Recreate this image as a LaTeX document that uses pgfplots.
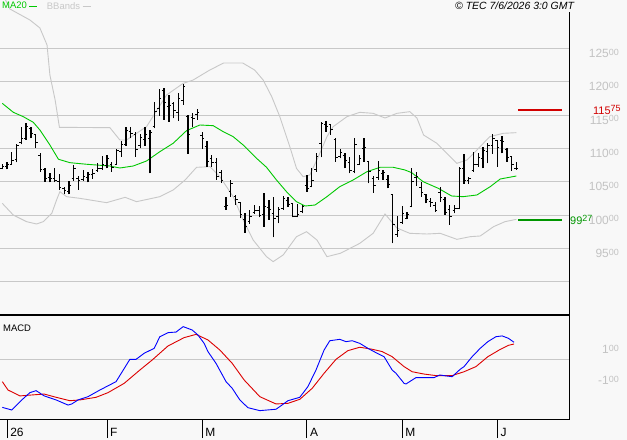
\documentclass[border=0pt]{standalone}
\usepackage{fontspec}
\setmainfont{Liberation Sans}
\usepackage{pgfplots}
\pgfplotsset{compat=1.18}
\usepackage{pgfplotstable}

\definecolor{bg}{RGB}{248,248,248}
\definecolor{gridc}{RGB}{200,200,200}
\definecolor{bandc}{RGB}{200,200,200}
\definecolor{mag}{RGB}{0,200,0}
\definecolor{labc}{RGB}{195,195,195}
\definecolor{redl}{RGB}{210,0,0}
\definecolor{greenl}{RGB}{0,150,0}
\definecolor{macdb}{RGB}{0,0,255}
\definecolor{macdr}{RGB}{220,0,0}

\newcommand\sx[1]{\raisebox{2.2bp}{\fontsize{9}{9}\selectfont #1}}

\pgfdeclareplotmark{otick}{\pgfpathmoveto{\pgfqpoint{-2bp}{0bp}}\pgfpathlineto{\pgfqpoint{0bp}{0bp}}\pgfusepathqstroke}
\pgfdeclareplotmark{ctick}{\pgfpathmoveto{\pgfqpoint{0bp}{0bp}}\pgfpathlineto{\pgfqpoint{2bp}{0bp}}\pgfusepathqstroke}

\pgfplotstableread{
i O H L C
0 107.00 107.60 106.85 107.30
1 107.20 107.90 106.85 107.60
2 107.60 109.40 107.50 108.20
3 108.30 110.60 107.90 110.40
4 110.80 113.25 110.60 111.40
5 111.50 113.75 111.25 113.30
6 113.00 113.25 111.50 112.20
7 112.00 112.00 110.10 110.90
8 108.90 109.25 106.50 106.80
9 106.80 107.00 105.00 105.40
10 105.60 106.25 104.90 105.50
11 105.50 107.00 104.90 105.10
12 105.00 106.10 103.75 104.10
13 104.00 104.25 103.10 103.70
14 103.50 105.10 103.10 104.40
15 105.40 107.50 105.10 106.90
16 105.50 105.90 103.75 105.20
17 105.30 106.75 105.10 105.70
18 105.60 106.50 104.90 106.00
19 106.00 106.90 105.40 106.20
20 106.60 107.75 106.50 107.00
21 107.00 108.90 106.75 107.50
22 107.40 109.00 107.00 108.40
23 107.50 107.90 106.50 107.10
24 107.60 109.90 107.50 109.60
25 109.50 111.10 108.75 110.60
26 110.60 113.25 110.40 112.60
27 112.50 113.25 111.50 112.20
28 112.00 112.50 108.75 109.80
29 110.40 112.10 110.00 111.60
30 111.30 113.25 110.40 112.00
31 111.50 112.75 106.25 112.40
32 113.20 116.90 113.00 115.50
33 116.00 118.90 114.90 117.50
34 118.70 119.10 114.25 116.80
35 116.20 118.00 114.00 116.40
36 116.70 117.00 114.50 115.60
37 115.40 118.25 114.10 117.40
38 117.10 119.60 116.50 119.30
39 114.80 115.00 109.20 112.10
40 114.60 115.25 113.25 114.50
41 115.00 115.85 114.25 115.40
42 111.90 112.40 109.90 111.40
43 110.30 111.10 107.25 108.00
44 108.40 109.00 107.25 107.90
45 107.80 108.50 105.25 105.70
46 106.30 106.75 104.85 105.20
47 101.30 102.75 100.75 101.40
48 103.50 105.25 102.75 104.70
49 102.80 103.00 101.50 102.30
50 101.80 102.00 99.50 100.00
51 99.30 100.25 97.35 98.30
52 99.00 100.75 98.65 99.80
53 100.30 101.50 100.15 100.60
54 100.70 101.35 99.65 99.90
55 100.00 103.25 98.25 101.30
56 101.10 102.25 99.25 100.80
57 100.20 102.75 96.65 99.40
58 99.70 101.25 98.75 100.80
59 100.90 102.85 100.75 102.50
60 102.10 102.75 101.25 101.60
61 101.70 101.75 99.65 99.80
62 99.70 101.65 99.65 100.10
63 100.50 101.50 100.25 101.20
64 104.40 106.00 103.50 103.90
65 104.30 107.00 104.15 105.20
66 106.80 109.35 106.50 108.70
67 110.70 114.00 108.65 113.70
68 113.60 114.15 112.50 113.20
69 113.50 113.65 112.00 112.80
70 111.30 111.50 108.00 108.60
71 108.70 109.85 108.50 109.30
72 108.90 109.25 107.00 108.10
73 107.80 108.65 106.25 106.60
74 106.50 111.50 106.25 110.60
75 107.60 109.00 107.50 108.50
76 110.00 111.50 108.00 110.10
77 108.00 108.00 104.75 106.50
78 105.50 105.85 103.35 104.40
79 105.60 108.15 105.25 106.60
80 106.20 106.75 105.25 106.30
81 105.30 106.00 104.00 104.60
82 103.10 103.10 95.75 98.50
83 97.00 99.85 96.75 97.70
84 98.90 101.35 98.65 100.20
85 99.40 100.50 99.35 100.00
86 101.20 107.00 101.15 105.00
87 105.60 106.50 104.35 105.80
88 104.10 105.00 102.75 103.40
89 103.00 103.15 101.75 102.30
90 102.00 102.50 101.25 101.80
91 101.40 102.00 100.50 100.70
92 103.40 104.15 102.00 102.60
93 102.30 102.75 100.00 100.30
94 100.80 101.50 98.50 99.70
95 100.70 101.50 100.25 101.00
96 101.00 107.25 100.85 107.00
97 106.90 109.15 104.65 105.20
98 105.20 105.75 104.65 105.50
99 106.70 109.50 106.50 107.50
100 107.60 109.25 107.25 108.60
101 108.40 110.25 107.00 109.70
102 109.50 110.75 107.75 110.40
103 110.40 112.10 109.15 111.50
104 111.20 111.25 107.25 110.10
105 111.10 111.85 109.25 111.00
106 109.80 110.00 108.00 108.60
107 108.70 108.85 106.65 107.50
108 107.00 108.00 106.75 107.00
}\ohlc

\pgfplotstableread{
i v
0 116.75
2.3 115.41
4.4 114.75
6.5 113.91
7.9 112.75
10.0 110.50
11.8 108.36
14.2 107.85
17.7 107.61
22.6 107.35
24.7 107.05
27.5 107.35
30.3 108.10
33.1 109.50
35.9 110.76
38.7 112.65
41.5 113.50
44.3 113.40
46.4 112.50
48.5 111.75
50.6 110.50
53.4 108.51
55.5 107.16
57.6 105.25
59.7 103.50
61.8 102.00
63.6 101.35
65.7 101.50
68.2 102.75
70.9 104.25
73.7 105.25
76.6 106.50
79.4 107.16
82.1 107.16
84.6 106.75
86.0 106.35
88.4 105.00
91.6 104.00
94.4 102.85
96.8 102.75
99.7 103.00
102.5 104.25
104.6 105.40
108.0 105.85
}\mavg

\pgfplotstableread{
i v
-0.5 134.00
1.6 130.90
5.8 129.25
7.9 128.05
9.4 125.50
10.0 121.00
11.1 117.25
12.0 113.15
22.6 113.10
24.7 111.25
26.1 111.25
30.3 113.25
34.5 118.00
38.0 119.75
40.1 120.25
43.6 121.75
46.5 122.80
50.5 122.80
53.0 121.75
54.8 120.25
56.6 117.75
58.3 114.75
60.4 110.25
61.8 107.00
63.2 105.75
64.6 106.00
66.4 108.75
68.2 111.75
69.5 113.25
72.4 114.75
75.1 115.40
77.9 115.25
80.4 114.55
82.9 115.25
85.6 115.50
87.1 114.55
88.5 112.00
91.3 110.75
93.4 109.25
95.5 107.75
97.6 108.25
99.7 109.75
102.4 111.75
105.2 112.25
108.0 112.35
}\bbup

\pgfplotstableread{
i v
0 101.75
2.3 100.00
5.1 99.00
7.2 98.65
8.6 99.00
10.4 100.25
11.4 102.25
12.1 103.50
13.5 102.75
16.3 102.50
21.9 101.85
25.8 102.65
28.2 102.00
33.1 102.75
35.9 103.75
38.4 105.25
40.8 107.15
43.6 107.25
45.7 105.75
48.5 102.75
50.6 99.25
52.7 96.25
55.5 93.75
56.9 93.00
59.0 94.00
61.8 96.75
63.9 97.50
66.1 96.25
68.2 93.75
71.0 94.25
75.1 95.75
77.9 97.25
80.4 100.15
82.9 98.05
85.6 97.25
89.2 97.15
92.0 97.25
95.5 96.35
98.3 96.75
100.4 96.85
103.2 98.25
105.6 99.00
108.0 99.35
}\bblo

\pgfplotstableread{
i v
0 -3.09
2.0 -3.26
4.1 -2.61
5.8 -2.14
7.1 -2.01
8.8 -2.35
11.3 -2.61
13.8 -2.94
14.6 -2.87
15.9 -2.61
18.0 -2.40
20.5 -1.97
23.9 -1.43
26.8 0.01
28.1 0.01
29.8 0.40
31.9 0.72
33.1 1.47
34.8 1.73
36.5 1.77
38.0 2.12
39.9 1.90
41.1 1.58
42.4 1.04
43.2 0.51
44.9 -0.25
47.0 -1.43
48.3 -1.86
49.9 -2.61
51.6 -3.11
54.1 -3.30
57.5 -3.21
58.3 -3.04
60.0 -2.66
62.5 -2.44
64.2 -1.75
65.9 -0.68
67.6 0.61
68.8 1.21
70.9 1.30
72.2 1.15
73.5 1.21
75.1 1.04
76.8 0.72
78.5 0.44
80.2 0.18
81.9 -0.68
82.7 -0.89
84.4 -1.54
84.8 -1.58
86.9 -1.17
90.7 -1.17
91.9 -1.00
93.2 -1.06
94.5 -1.11
96.2 -0.63
97.0 -0.46
98.7 0.18
100.4 0.72
102.0 1.15
103.7 1.47
105.0 1.52
106.3 1.37
107.5 1.11
}\macd

\pgfplotstableread{
i v
0 -1.43
1.2 -1.97
3.7 -2.35
6.2 -2.29
8.8 -2.23
11.3 -2.44
14.2 -2.66
16.3 -2.61
19.7 -2.44
22.2 -2.14
25.6 -1.54
28.9 -0.68
31.5 -0.03
34.8 0.87
38.2 1.41
40.7 1.62
43.2 1.26
45.7 0.61
48.3 -0.25
50.8 -1.32
54.1 -2.40
57.5 -2.87
60.0 -2.83
62.5 -2.57
65.1 -1.86
67.6 -0.89
70.1 0.01
72.6 0.57
75.1 0.79
77.7 0.66
79.8 0.51
81.9 0.18
84.4 -0.46
86.1 -0.79
88.6 -0.94
91.1 -1.04
94.5 -1.04
97.0 -0.79
99.5 -0.46
102.0 0.18
104.6 0.65
106.3 0.91
107.5 1.00
}\signal

\begin{document}
\begin{tikzpicture}
\fill[bg] (0,0) rectangle (627bp,440bp);
% ---------- price panel ----------
\begin{axis}[
  at={(0,125bp)}, anchor=south west, scale only axis,
  width=569bp, height=315bp,
  xmin=-0.483, xmax=119.05, ymin=85, ymax=132.25,
  clip mode=individual,
  axis line style={draw=none},
  xtick=\empty,
  ytick={90,95,100,105,110,115,120,125},
  yticklabels={{},95\sx{00},100\sx{00},105\sx{00},110\sx{00},115\sx{00},120\sx{00},125\sx{00}},
  yticklabel pos=right,
  major tick length=0pt,
  ytick style={draw=none},
  yticklabel style={anchor=east, inner sep=0pt, xshift=50bp, yshift=-5bp, text=labc, font=\fontsize{12}{12}\selectfont},
  ymajorgrids, grid style={gridc, line width=0.9bp},
  legend style={at={(0,1)}, anchor=north west, draw=none, fill=none, inner sep=0pt,
    font=\fontsize{9.5}{10}\selectfont, legend columns=2,
    /tikz/every even column/.append style={column sep=7bp}},
  legend plot pos=right,
  legend image code/.code={\draw (0bp,0bp) -- (8bp,0bp);},
]
\addlegendimage{mag, line width=1bp}
\addlegendentry{\textcolor{mag}{MA20}}
\addlegendimage{bandc, line width=1bp}
\addlegendentry{\textcolor{bandc}{BBands}}

\addplot[bandc, line width=0.9bp, forget plot] table[x=i, y=v] {\bbup};
\addplot[bandc, line width=0.9bp, forget plot] table[x=i, y=v] {\bblo};
\addplot[mag, line width=0.9bp, forget plot] table[x=i, y=v] {\mavg};

\addplot[draw=none, mark=none, forget plot,
  error bars/.cd, y dir=plus, y explicit, error mark=none,
  error bar style={draw=black, line width=1.3bp}]
  table[x=i, y=L, y error plus expr=\thisrow{H}-\thisrow{L}] {\ohlc};
\addplot[black, only marks, mark=otick, mark options={line width=1bp}, forget plot] table[x=i, y=O] {\ohlc};
\addplot[black, only marks, mark=ctick, mark options={line width=1bp}, forget plot] table[x=i, y=C] {\ohlc};

\addplot[redl, line width=2bp, forget plot] coordinates {(108.3,115.75) (117.6,115.75)};
\addplot[greenl, line width=2bp, forget plot] coordinates {(108.3,99.27) (117.6,99.27)};

\draw[black, line width=2.5bp] (rel axis cs:0,0) -- (rel axis cs:1,0);
\draw[black, line width=1bp] (rel axis cs:1,0) -- (rel axis cs:1,0.962);
\node[anchor=west, inner sep=0pt, text=redl, font=\fontsize{11}{11}\selectfont] at (axis cs:119.05,115.75) [xshift=24bp] {115\sx{75}};
\node[anchor=west, inner sep=0pt, text=greenl, font=\fontsize{11}{11}\selectfont] at (axis cs:119.05,99.27) [xshift=1bp] {99\sx{27}};
\node[anchor=north west, inner sep=0pt, font=\fontsize{10.5}{10.5}\itshape] at (rel axis cs:0,1) [xshift=455bp, yshift=-2bp] {\textcopyright\ TEC 7/6/2026 3:0 GMT};
\end{axis}
% ---------- MACD panel ----------
\begin{axis}[
  at={(0,21bp)}, anchor=south west, scale only axis,
  width=569bp, height=104bp,
  xmin=-0.483, xmax=119.05, ymin=-3.84, ymax=2.87,
  clip mode=individual,
  axis line style={draw=none},
  xtick={1,22,42,64,84,104},
  xticklabels={26,F,M,A,M,J},
  xtick pos=bottom, tick align=outside, major tick length=19bp,
  xtick style={black, line width=1bp},
  xticklabel style={anchor=west, inner sep=0pt, xshift=3bp, yshift=6bp, font=\fontsize{12}{12}\selectfont},
  ytick={-1,1},
  yticklabels={-1\sx{00},1\sx{00}},
  yticklabel pos=right,
  ytick style={draw=none},
  yticklabel style={anchor=east, inner sep=0pt, xshift=31bp, yshift=-5bp, text=labc, font=\fontsize{12}{12}\selectfont},
  extra y ticks={0}, extra y tick labels={},
  extra y tick style={ymajorgrids=true, grid style={gridc, line width=0.9bp}, ytick style={draw=none}},
]
\addplot[macdr, line width=0.9bp] table[x=i, y=v] {\signal};
\addplot[macdb, line width=0.9bp] table[x=i, y=v] {\macd};
\draw[black, line width=1bp] (rel axis cs:0,0) -- (rel axis cs:1,0) -- (rel axis cs:1,1);
\node[anchor=north west, inner sep=0pt, font=\fontsize{9.5}{10}\selectfont] at (rel axis cs:0,1) [xshift=3bp, yshift=-10bp] {MACD};
\end{axis}
\pgfresetboundingbox
\path (0,0) rectangle (627bp,440bp);
\end{tikzpicture}
\end{document}
